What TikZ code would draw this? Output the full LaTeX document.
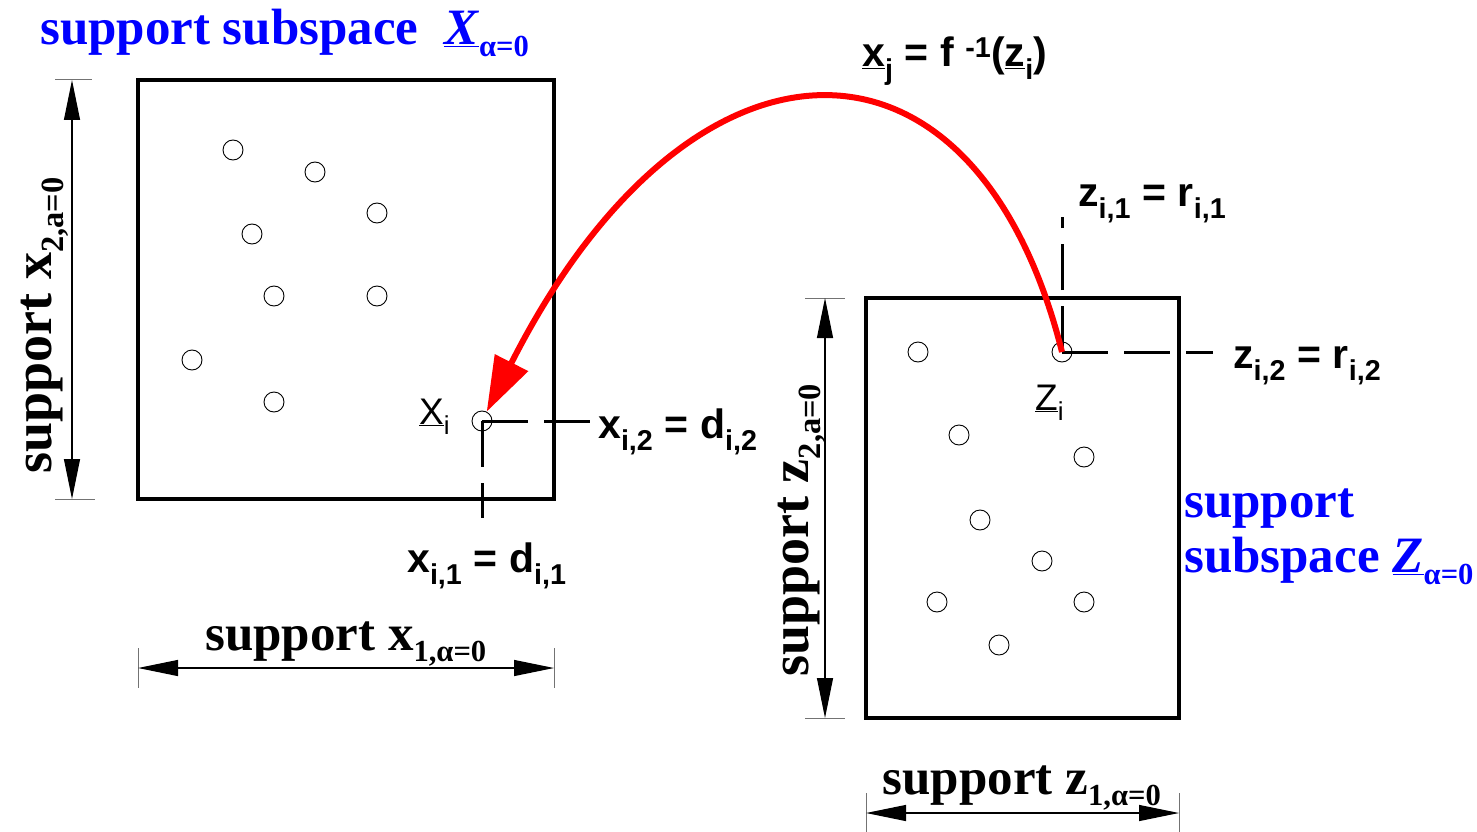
\documentclass[tikz,border=0pt]{standalone}
\usepackage{fontspec}
\setmainfont{Liberation Serif}
\newfontfamily\labsans{Liberation Sans}
\usetikzlibrary{arrows.meta}
\definecolor{subblue}{RGB}{0,0,255}
\definecolor{mapred}{RGB}{255,0,0}
% smaller index for the serif labels
\makeatletter
\newcommand{\lowidx}[1]{\edef\mainsize{\f@size}\textsubscript{\fontsize{\fpeval{0.6*\mainsize}}{0}\selectfont #1}}
\makeatother

\begin{document}
\begin{tikzpicture}[
    x=1pt, y=-1pt,
    % boxes and sample points
    spacebox/.style={rectangle, draw, line width=4pt, inner sep=0pt},
    sample/.style={circle, draw, line width=0.9pt, minimum size=20pt, inner sep=0pt},
    % dimensioning
    dimline/.style={{Triangle[length=40pt,width=16pt]}-{Triangle[length=40pt,width=16pt]}, line width=1.2pt},
    extline/.style={black!55, line width=1pt},
    projline/.style={line width=3pt, dash pattern=on 46pt off 16pt},
    maparrow/.style={-{Triangle[length=55pt,width=36pt]}, line width=6pt, mapred},
    dimlabel/.style={font=\fontsize{51}{55}\selectfont\bfseries, inner sep=0pt},
    vdimlabel/.style={dimlabel, font=\fontsize{54}{58}\selectfont\bfseries, rotate=90},
    spacelabel/.style={font=\fontsize{51}{55}\selectfont\bfseries, text=subblue, inner sep=0pt},
    coordlabel/.style={font=\labsans\fontsize{41}{45}\selectfont\bfseries, inner sep=0pt},
    pointlabel/.style={font=\labsans\fontsize{37}{40}\selectfont, inner sep=0pt}
    ]
    \useasboundingbox (0,0) rectangle (1477,832);

    % the two support subspaces
    \node[spacebox, minimum width=416pt, minimum height=419pt] (xspace) at (346,289.5) {};
    \node[spacebox, minimum width=313pt, minimum height=420pt] (zspace) at (1022.5,508) {};

    \node[spacelabel, anchor=base west] (xspacelab) at (40,45) {support subspace\ \ \underline{\textit{X}}\lowidx{α=0}};
    \node[spacelabel, align=left, anchor=north west] (zspacelab) at (1184,489) {support\\subspace \underline{\textit{Z}}\lowidx{α=0}};

    % sample points in X
    \node[sample] (p1) at (233,150) {};
    \node[sample] (p2) at (315,172) {};
    \node[sample] (p3) at (377,213) {};
    \node[sample] (p4) at (252,234) {};
    \node[sample] (p5) at (274,296) {};
    \node[sample] (p6) at (377,296) {};
    \node[sample] (p7) at (192,360) {};
    \node[sample] (p8) at (274,402) {};
    \node[sample] (xi) at (482,421) {};

    % sample points in Z
    \node[sample] (q1) at (918,352) {};
    \node[sample] (q2) at (959,435) {};
    \node[sample] (q3) at (1084,457) {};
    \node[sample] (q4) at (980,520) {};
    \node[sample] (q5) at (1042,561) {};
    \node[sample] (q6) at (937,602) {};
    \node[sample] (q7) at (1084,602) {};
    \node[sample] (q8) at (999,645) {};
    \node[sample] (zi) at (1062,352) {};

    \node[pointlabel, anchor=base west] (xilab) at (419,424) {\underline{X}\textsubscript{i}};
    \node[pointlabel, anchor=base west] (zilab) at (1035,410) {\underline{Z}\textsubscript{i}};

    % projections of the points
    \coordinate (xi2end) at (590,421);
    \coordinate (xi1end) at (482,518);
    \coordinate (zi2end) at (1213,352);
    \coordinate (zi1end) at (1062,217);
    \draw[projline] (xi.center) -- (xi2end);
    \draw[projline] (xi.center) -- (xi1end);
    \draw[projline] (zi.center) -- (zi2end);
    \draw[projline] (zi.center) -- (zi1end);

    \node[coordlabel, anchor=base west] (xi2lab) at (598,438) {x\textsubscript{i,2} = d\textsubscript{i,2}};
    \node[coordlabel, anchor=base west] (xi1lab) at (407,572) {x\textsubscript{i,1} = d\textsubscript{i,1}};
    \node[coordlabel, anchor=base west] (zi1lab) at (1078,206) {z\textsubscript{i,1} = r\textsubscript{i,1}};
    \node[coordlabel, anchor=base west] (zi2lab) at (1233,368) {z\textsubscript{i,2} = r\textsubscript{i,2}};
    \node[coordlabel, anchor=base west] (maplab) at (862,67) {\underline{x}\textsubscript{j} = f \textsuperscript{-1}(\underline{z}\textsubscript{i})};

    % dimensions of X
    \coordinate (xv1) at (72,80);
    \coordinate (xv2) at (72,499);
    \coordinate (xh1) at (138,668);
    \coordinate (xh2) at (554,668);
    \draw[extline] (55,80) -- (92,80);
    \draw[extline] (55,499) -- (95,499);
    \draw[extline] (138,648) -- (138,688);
    \draw[extline] (554,648) -- (554,688);
    \draw[dimline] (xv1) -- (xv2);
    \draw[dimline] (xh1) -- (xh2);
    \node[vdimlabel, anchor=base] (xv2lab) at (51,325) {support x\lowidx{2,a=0}};
    \node[dimlabel, anchor=base] (xh1lab) at (346,650) {support x\lowidx{1,α=0}};

    % dimensions of Z
    \coordinate (zv1) at (825,298);
    \coordinate (zv2) at (825,718);
    \coordinate (zh1) at (866,813);
    \coordinate (zh2) at (1179,813);
    \draw[extline] (805,298) -- (845,298);
    \draw[extline] (805,718) -- (845,718);
    \draw[extline] (866,793) -- (866,832);
    \draw[extline] (1179,793) -- (1179,832);
    \draw[dimline] (zv1) -- (zv2);
    \draw[dimline] (zh1) -- (zh2);
    \node[vdimlabel, anchor=base] (zv2lab) at (808,530) {support z\lowidx{2,a=0}};
    \node[dimlabel, anchor=base] (zh1lab) at (1022,794) {support z\lowidx{1,α=0}};

    % inverse mapping
    \draw[maparrow] (zi.center) .. controls (975,5) and (690,10) .. (xi);
\end{tikzpicture}
\end{document}
